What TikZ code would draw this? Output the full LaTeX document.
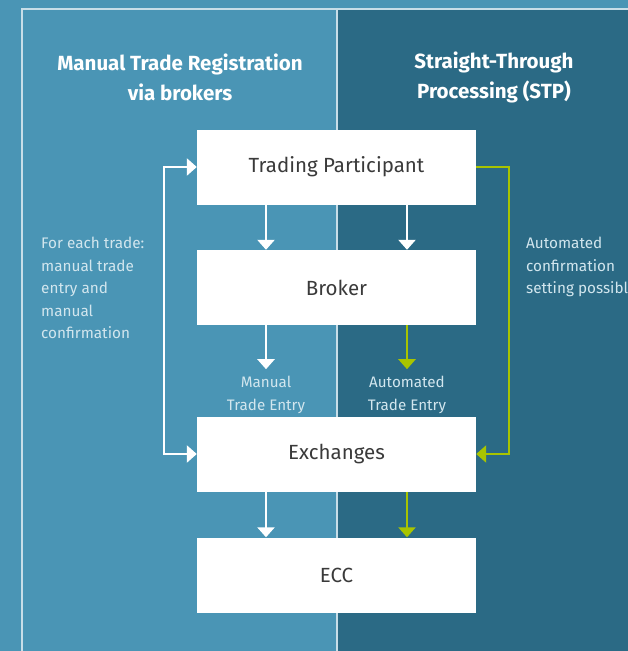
\documentclass[tikz,border=0pt]{standalone}
\usepackage{fontspec}
\setmainfont{Fira Sans}
\usetikzlibrary{arrows.meta}
\definecolor{panelLight}{HTML}{4A95B5}
\definecolor{panelDark}{HTML}{2B6A85}
\definecolor{limeArrow}{HTML}{A8C400}
\definecolor{noteText}{HTML}{D2E6EE}
\definecolor{boxText}{HTML}{3A3A3A}
\definecolor{frameLine}{HTML}{C8DEE8}

\tikzset{
  stage/.style={fill=white, minimum width=279pt, minimum height=75pt, inner sep=0pt,
    text=boxText, font=\fontsize{20.5}{22}\selectfont},
  flow/.style={line width=2.4pt, -{Triangle[width=17pt,length=10pt]}},
  twoway/.style={line width=2.4pt, {Triangle[width=17pt,length=10pt]}-{Triangle[width=17pt,length=10pt]}},
  header/.style={text=white, align=center, font=\fontsize{20.5}{30}\selectfont\bfseries},
  note/.style={text=noteText, align=left, font=\fontsize{15.3}{22.5}\selectfont},
  entry/.style={text=noteText, align=center, font=\fontsize{15.2}{23}\selectfont},
}

\begin{document}
\begin{tikzpicture}[x=1pt,y=-1pt]
			%%%%% BACKGROUND %%%%%
			\useasboundingbox (0,0) rectangle (628,651);
			\clip (0,0) rectangle (628,651);
			\fill[panelLight] (0,0) rectangle (628,651);
			\fill[panelDark] (337,9) rectangle (628,651);
			\draw[frameLine, line width=1.5pt] (22,651) -- (22,9) -- (628,9);
			\draw[frameLine, line width=1.5pt] (337,9) -- (337,651);
			
			%%%%% HEADERS %%%%%
			\node[header] (hmanual) at (180,77) {Manual Trade Registration\\via brokers};
			\node[header] (hstp) at (494,77) {Straight-Through\\Processing (STP)};
			
			%%%%% STAGES %%%%%
			\node[stage] (tp) at (336.5,167) {Trading Participant};
			\node[stage] (broker) at (336.5,287.5) {Broker};
			\node[stage] (exch) at (336.5,454) {Exchanges};
			\node[stage] (ecc) at (336.5,575) {ECC};
			
			%%%%% ARROWS %%%%%
			\draw[flow, white] ([xshift=-70.5pt]tp.south) -- ([xshift=-70.5pt]broker.north);
			\draw[flow, white] ([xshift=70.5pt]tp.south) -- ([xshift=70.5pt]broker.north);
			\draw[flow, white] ([xshift=-70.5pt]broker.south) -- ([xshift=-70.5pt,yshift=-44pt]broker.south);
			\draw[flow, limeArrow] ([xshift=70.5pt]broker.south) -- ([xshift=70.5pt,yshift=-44pt]broker.south);
			\draw[flow, white] ([xshift=-70.5pt]exch.south) -- ([xshift=-70.5pt]ecc.north);
			\draw[flow, limeArrow] ([xshift=70.5pt]exch.south) -- ([xshift=70.5pt]ecc.north);
			
			\draw[twoway, white] (tp.west) -- ++(-33,0) |- (exch.west);
			\draw[flow, limeArrow] (tp.east) -- ++(33,0) |- (exch.east);
			
			%%%%% NOTES %%%%%
			\node[entry] (manentry) at (266,394.5) {Manual\\Trade Entry};
			\node[entry] (autoentry) at (407,394.5) {Automated\\Trade Entry};
			\node[note, anchor=north west, inner sep=0pt] (leftnote) at (41,237) {For each trade:\\manual trade\\entry and\\manual\\confirmation};
			\node[note, anchor=north west, inner sep=0pt] (rightnote) at (526,237) {Automated\\confirmation\\setting possible};
			
			%%%%% END %%%%%
\end{tikzpicture}
\end{document}
